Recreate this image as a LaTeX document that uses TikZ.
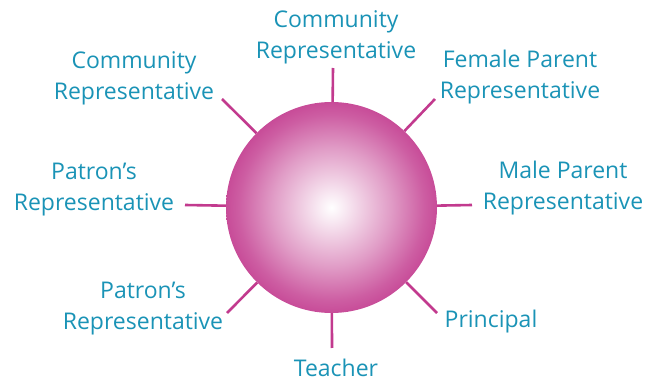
\documentclass[tikz,border=0pt]{standalone}
\usepackage{fontspec}
\setmainfont{Open Sans}
\definecolor{txt}{HTML}{1A93B6}
\definecolor{mag}{HTML}{C23A8E}
\pgfdeclareradialshading{ball}{\pgfpoint{0bp}{0bp}}{color(0bp)=(white); color(3.5bp)=(mag!12!white); color(14bp)=(mag!50!white); color(22bp)=(mag!82!white); color(28bp)=(mag); color(50bp)=(mag)}
\newcommand\fl{\vphantom{Ml}}
\begin{document}
\begin{tikzpicture}[x=1pt,y=-1pt,
  lbl/.style={text=txt, font=\fontsize{23}{31.5}\selectfont, align=center, inner sep=0pt, anchor=north},
  spoke/.style={draw=mag, line width=2.6pt},
  hubstyle/.style={circle, minimum size=211pt, inner sep=0pt, shading=ball}]
\useasboundingbox (0,0) rectangle (649,382);
\node[hubstyle] (hub) at (331.5,207.5) {};
% end points of spokes
\coordinate (eT) at (333,68);
\coordinate (eB) at (332,348);
\coordinate (eL) at (185,205);
\coordinate (eR) at (472,205);
\coordinate (eUL) at (222,99);
\coordinate (eUR) at (435,99);
\coordinate (eLL) at (227,313);
\coordinate (eLR) at (437,313);
\foreach \e in {eT,eB,eL,eR,eUL,eUR,eLL,eLR} \draw[spoke] (hub) -- (\e);
% labels
\node[lbl] (lT) at (336,9.5) {\fl Community\\Representative};
\node[lbl] (lUL) at (134,50.5) {\fl Community\\Representative};
\node[lbl] (lUR) at (520,49.5) {\fl Female Parent\\Representative};
\node[lbl] (lL) at (94,161.5) {\fl Patron’s\\Representative};
\node[lbl] (lR) at (563,160.5) {\fl Male Parent\\Representative};
\node[lbl] (lLL) at (143,280.5) {\fl Patron’s\\Representative};
\node[lbl] (lLR) at (491,309.5) {\fl Principal};
\node[lbl] (lB) at (336,358.5) {\fl Teacher};
\end{tikzpicture}
\end{document}
